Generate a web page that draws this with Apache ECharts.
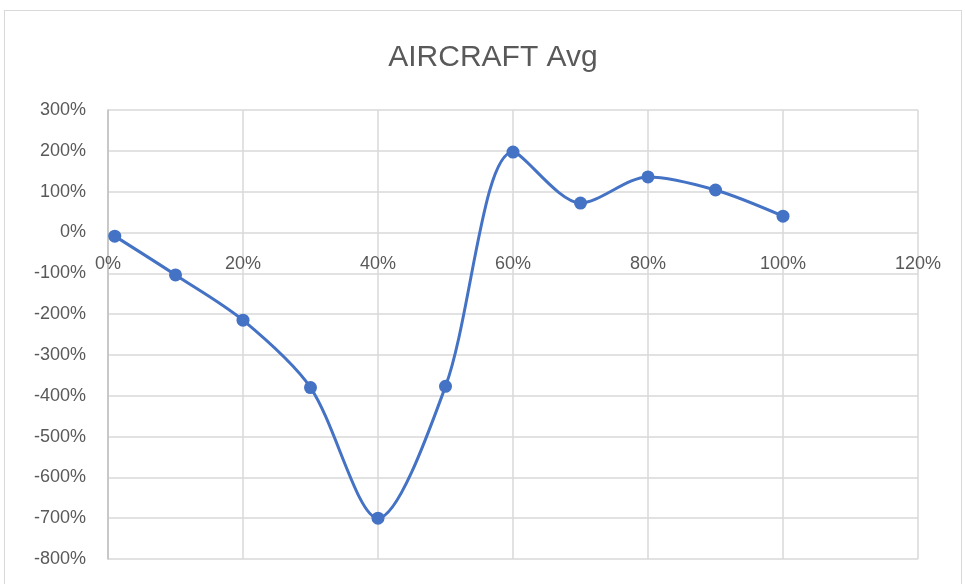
<!DOCTYPE html>
<html>
<head>
<meta charset="utf-8">
<script src="https://cdn.jsdelivr.net/npm/echarts@6/dist/echarts.min.js"></script>
<style>
  html, body { margin: 0; padding: 0; background: #fff; }
  #frame {
    position: absolute; left: 4px; top: 10px; width: 958px; height: 580px;
    border: 1px solid #d9d9d9; box-sizing: border-box;
  }
  #chart { position: absolute; left: 0; top: 0; width: 965px; height: 584px; }
</style>
</head>
<body>
<div id="frame"></div>
<div id="chart"></div>
<script>
const chartTitle = 'AIRCRAFT Avg';
// x positions (share of flight), y values (fractions, 1 = 100%)
const xValues = [0.01, 0.1, 0.2, 0.3, 0.4, 0.5, 0.6, 0.7, 0.8, 0.9, 1.0];
const yValues = [-0.09, -1.04, -2.15, -3.8, -7.0, -3.77, 1.97, 0.72, 1.36, 1.04, 0.40];

const pct = (v) => Math.round(v * 100) + '%';
const labelFont = {
  color: '#595959',
  fontSize: 18,
  fontFamily: 'Liberation Sans',
};
const gridBottom = 25;

const chart = echarts.init(document.getElementById('chart'));

chart.setOption({
  animation: false,
  title: {
    text: chartTitle,
    left: 488,
    top: 38,
    textAlign: 'center',
    textStyle: {
      color: '#595959',
      fontSize: 30,
      fontWeight: 'normal',
      fontFamily: 'Liberation Sans',
    },
  },
  grid: {
    left: 108,
    right: 47,
    top: 110,
    bottom: gridBottom,
  },
  xAxis: {
    type: 'value',
    min: 0,
    max: 1.2,
    interval: 0.2,
    axisLine: { show: false, onZero: false },
    axisTick: { show: false },
    axisLabel: Object.assign({ margin: 29, formatter: pct }, labelFont),
    splitLine: { lineStyle: { color: '#d9d9d9', width: 1.5 } },
  },
  yAxis: {
    type: 'value',
    min: -8,
    max: 3,
    interval: 1,
    axisLine: { show: true, onZero: false, lineStyle: { color: '#bfbfbf', width: 1.5 } },
    axisTick: { show: false },
    axisLabel: Object.assign({ margin: 22, formatter: pct }, labelFont),
    splitLine: { lineStyle: { color: '#d9d9d9', width: 1.5 } },
  },
  series: [{
    type: 'line',
    data: xValues.map((x, i) => [x, yValues[i]]),
    smooth: 0.3,
    symbol: 'circle',
    symbolSize: 13,
    lineStyle: { color: '#4472C4', width: 3 },
    itemStyle: { color: '#4472C4' },
  }],
});

// Excel draws the horizontal axis labels where y = 0; move the x axis up to it
const zeroY = chart.convertToPixel({ yAxisIndex: 0 }, 0);
const bottomY = chart.getHeight() - gridBottom;
chart.setOption({ xAxis: { offset: zeroY - bottomY } });
</script>
</body>
</html>
